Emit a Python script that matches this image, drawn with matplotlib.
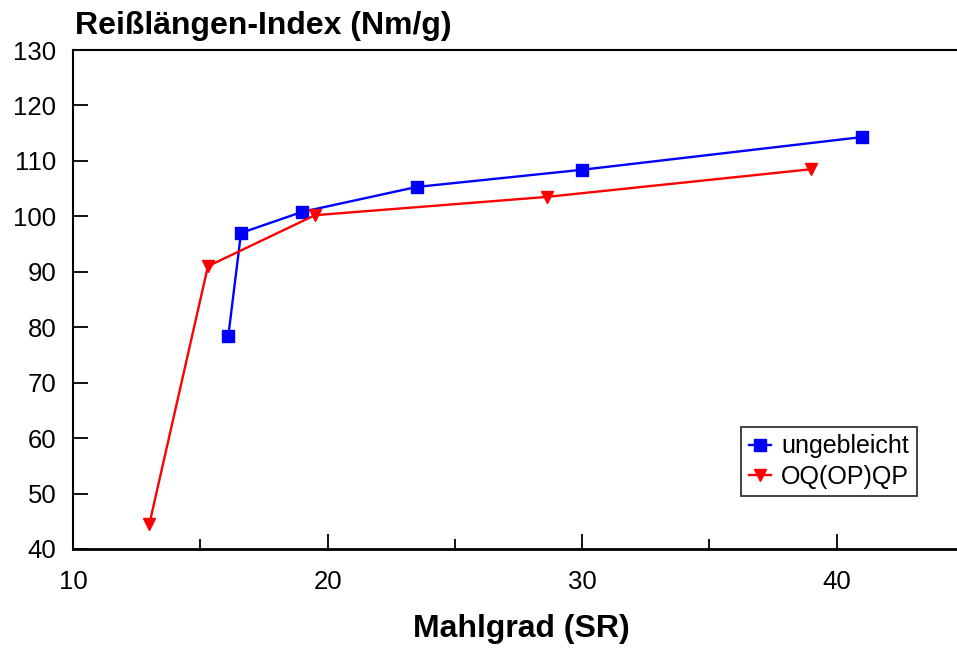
import matplotlib
matplotlib.use("Agg")
import matplotlib.pyplot as plt
from matplotlib.ticker import MultipleLocator
from matplotlib import font_manager

# Data: tensile index vs. freeness (Schopper-Riegler)
sr_unbleached = [16.1, 16.6, 19.0, 23.5, 30.0, 41.0]
ti_unbleached = [78.4, 97.0, 100.8, 105.3, 108.4, 114.3]

sr_bleached = [13.0, 15.3, 19.5, 28.6, 39.0]
ti_bleached = [44.5, 91.0, 100.2, 103.5, 108.5]

label_unbleached = "ungebleicht"
label_bleached = "OQ(OP)QP"
y_title = "Reißlängen-Index (Nm/g)"
x_title = "Mahlgrad (SR)"

available = {f.name for f in font_manager.fontManager.ttflist}
narrow = "Liberation Sans Narrow" if "Liberation Sans Narrow" in available else "Liberation Sans"

plt.rcParams["font.family"] = ["Liberation Sans", "DejaVu Sans"]

fig = plt.figure(figsize=(9.57, 6.51), dpi=100)
W, H = 957, 651
x0, x1 = 73, 964
y_top, y_bot = 50, 549
ax = fig.add_axes([x0 / W, (H - y_bot) / H, (x1 - x0) / W, (y_bot - y_top) / H])

ax.plot(sr_unbleached, ti_unbleached, color="#0000ff", lw=1.7, marker="s",
        ms=8.5, mec="#0000ff", mfc="#0000ff", label=label_unbleached)
ax.plot(sr_bleached, ti_bleached, color="#ff0000", lw=1.7, marker="v",
        ms=9, mec="#ff0000", mfc="#ff0000", label=label_bleached)

ax.set_xlim(10, 45)
ax.set_ylim(40, 130)
ax.xaxis.set_major_locator(MultipleLocator(10))
ax.xaxis.set_minor_locator(MultipleLocator(5))
ax.yaxis.set_major_locator(MultipleLocator(10))

ax.tick_params(axis="both", which="major", direction="in", length=10.5, width=1.3,
               labelsize=18.5, colors="black")
ax.tick_params(axis="y", which="major", pad=12)
ax.tick_params(axis="x", which="major", pad=15)
ax.tick_params(axis="x", which="minor", direction="in", length=7, width=1.3)
for s in ax.spines.values():
    s.set_linewidth(1.5)
ax.spines["bottom"].set_linewidth(2)

leg = ax.legend(loc="upper left", bbox_to_anchor=((741 - x0) / (x1 - x0), (y_bot - 427) / (y_bot - y_top)),
                fontsize=18, frameon=True, fancybox=False, edgecolor="black",
                handlelength=0.9, handletextpad=0.4, borderpad=0.3, labelspacing=0.25,
                borderaxespad=0)
leg.get_frame().set_linewidth(1.3)

fig.text(75 / W, 1 - 34 / H, y_title, family=[narrow, "DejaVu Sans"], fontsize=23,
         fontweight="bold", ha="left", va="baseline")
fig.text(521 / W, 1 - 637 / H, x_title, family=[narrow, "DejaVu Sans"], fontsize=23,
         fontweight="bold", ha="center", va="baseline")

fig.savefig("out.png", dpi=100)
